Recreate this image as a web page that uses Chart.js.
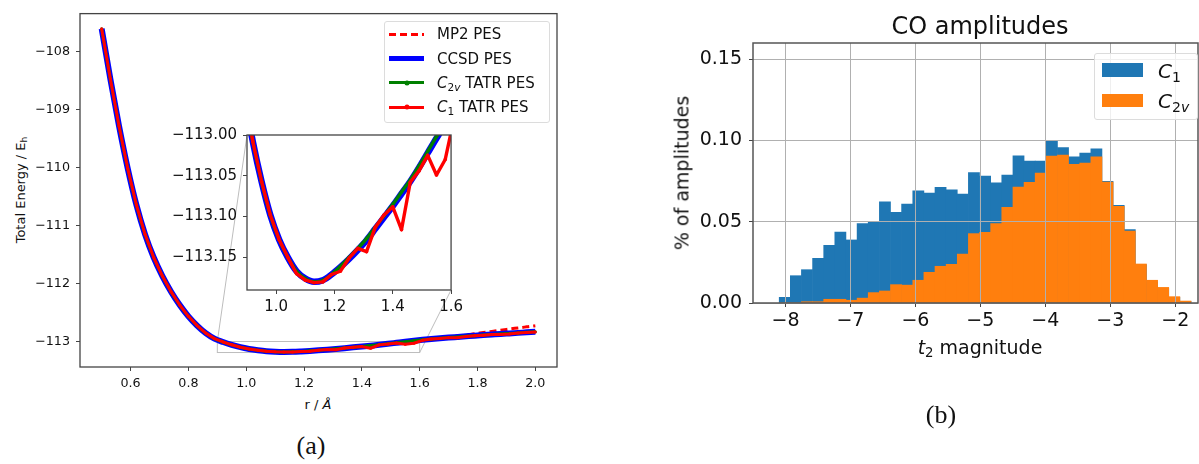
<!DOCTYPE html>
<html lang="en">
<head>
  <meta charset="UTF-8" />
  <title>CO potential energy surfaces and amplitudes</title>
  <script src="https://cdn.jsdelivr.net/npm/chart.js@4.4.1/dist/chart.umd.min.js"></script>
  <style>
    body { margin: 0; background: #fff; }
    #fig { position: relative; width: 1199px; height: 464px; overflow: hidden; background: #fff;
           font-family: 'DejaVu Sans', sans-serif; color: #111; }
    #fig canvas { position: absolute; }
    .txt { position: absolute; white-space: nowrap; line-height: 1; transform: translate(-50%, -50%); }
    .rot { transform: translate(-50%, -50%) rotate(-90deg); }
    .cap { font-family: 'Liberation Serif', 'DejaVu Serif', serif; font-size: 26px; }
    sub { font-size: 70%; line-height: 0; vertical-align: -0.3em; }
    .legend { position: absolute; z-index: 3; background: rgba(255,255,255,0.8);
              border: 1px solid #dcdcdc; border-radius: 3px; box-sizing: border-box; }
    .hnd { position: absolute; left: 4px; width: 35px; }
    .dot { position: absolute; left: 50%; top: 50%; width: 5px; height: 5px; border-radius: 50%;
           transform: translate(-50%, -50%); }
    .lab { position: absolute; white-space: nowrap; line-height: 1; transform: translateY(-50%); }
  </style>
</head>
<body>
<div id="fig">
  <!-- (a) potential energy curves -->
  <canvas id="main" width="570" height="400" style="left:0;top:0;z-index:1"></canvas>
  <canvas id="inset" width="310" height="200" style="left:157px;top:120px;z-index:2"></canvas>

  <div class="txt rot" style="left:20px;top:190px;font-size:13px">Total Energy / E<sub>h</sub></div>
  <div class="txt" style="left:318px;top:404px;font-size:13px">r / <i>Å</i></div>
  <div class="txt cap" style="left:311px;top:446px">(a)</div>

  <div class="legend" style="left:384px;top:21px;width:166px;height:102px;font-size:15px">
    <div class="hnd" style="top:11px;height:2.5px;background:repeating-linear-gradient(to right, red 0 7px, transparent 7px 11px)"></div>
    <div class="lab" style="left:52px;top:12px">MP2 PES</div>
    <div class="hnd" style="top:34px;height:5px;background:blue"></div>
    <div class="lab" style="left:52px;top:36.5px">CCSD PES</div>
    <div class="hnd" style="top:59px;height:3px;background:green"><span class="dot" style="background:green"></span></div>
    <div class="lab" style="left:52px;top:60.5px"><i>C</i><sub>2<i>v</i></sub> TATR PES</div>
    <div class="hnd" style="top:83.5px;height:3px;background:red"><span class="dot" style="background:red"></span></div>
    <div class="lab" style="left:52px;top:85px"><i>C</i><sub>1</sub> TATR PES</div>
  </div>

  <!-- (b) amplitude histogram -->
  <canvas id="hist" width="519" height="343" style="left:680px;top:0"></canvas>

  <div class="txt" style="left:980px;top:26px;font-size:24px">CO amplitudes</div>
  <div class="txt rot" style="left:682px;top:173px;font-size:19px">% of amplitudes</div>
  <div class="txt" style="left:980px;top:347px;font-size:19px"><i>t</i><sub>2</sub> magnitude</div>
  <div class="txt cap" style="left:941px;top:415px">(b)</div>

  <div class="legend" style="left:1094px;top:53px;width:104px;height:67px;font-size:20px">
    <div style="position:absolute;left:7px;top:9px;width:41px;height:14px;background:#1f77b4"></div>
    <div class="lab" style="left:63px;top:17px"><i>C</i><sub>1</sub></div>
    <div style="position:absolute;left:7px;top:39.5px;width:41px;height:13.5px;background:#ff7f0e"></div>
    <div class="lab" style="left:63px;top:47px"><i>C</i><sub>2<i>v</i></sub></div>
  </div>
</div>

<script>
  // ---- (a) PES data, bond length r in Angstrom, energies in Hartree ----
  const rGrid = [0.50, 0.53, 0.56, 0.59, 0.62, 0.65, 0.68, 0.71, 0.74, 0.77,
                 0.80, 0.83, 0.86, 0.89, 0.92, 0.95, 0.98, 1.01, 1.04, 1.07,
                 1.10, 1.13, 1.16, 1.19, 1.22, 1.25, 1.28, 1.31, 1.34, 1.37,
                 1.40, 1.43, 1.46, 1.49, 1.52, 1.55, 1.58, 1.61, 1.64, 1.67,
                 1.70, 1.73, 1.76, 1.79, 1.82, 1.85, 1.88, 1.91, 1.94, 1.97, 2.00];

  const eCCSD = [-107.60, -108.47, -109.28, -110.01, -110.64, -111.15, -111.55, -111.87, -112.14, -112.37,
                 -112.565, -112.725, -112.855, -112.95, -113.008, -113.057, -113.098, -113.128, -113.150, -113.167,
                 -113.176, -113.180, -113.178, -113.171, -113.162, -113.152, -113.141, -113.129, -113.115, -113.101,
                 -113.087, -113.072, -113.057, -113.040, -113.022, -113.004, -112.987, -112.971, -112.957, -112.944,
                 -112.932, -112.921, -112.910, -112.899, -112.889, -112.879, -112.869, -112.860, -112.851, -112.842, -112.833];

  const eMP2 = [-107.60, -108.47, -109.28, -110.01, -110.64, -111.15, -111.55, -111.87, -112.14, -112.37,
                -112.565, -112.725, -112.855, -112.95, -113.008, -113.057, -113.098, -113.128, -113.150, -113.167,
                -113.176, -113.180, -113.178, -113.171, -113.162, -113.152, -113.141, -113.129, -113.115, -113.101,
                -113.087, -113.072, -113.057, -113.040, -113.022, -113.004, -112.987, -112.971, -112.957, -112.942,
                -112.926, -112.909, -112.890, -112.866, -112.846, -112.825, -112.804, -112.785, -112.766, -112.747, -112.728];

  const eC2v = [-107.60, -108.47, -109.28, -110.01, -110.64, -111.15, -111.55, -111.87, -112.14, -112.37,
                -112.565, -112.725, -112.855, -112.95, -113.008, -113.057, -113.098, -113.128, -113.150, -113.167,
                -113.176, -113.180, -113.178, -113.171, -113.161, -113.150, -113.139, -113.127, -113.113, -113.099,
                -113.085, -113.070, -113.055, -113.038, -113.020, -113.002, -112.985, -112.969, -112.955, -112.942,
                -112.931, -112.920, -112.910, -112.899, -112.889, -112.879, -112.869, -112.860, -112.851, -112.842, -112.833];

  const eC1 = [-107.60, -108.47, -109.28, -110.01, -110.64, -111.15, -111.55, -111.87, -112.14, -112.37,
               -112.565, -112.725, -112.855, -112.95, -113.008, -113.057, -113.098, -113.128, -113.150, -113.170,
               -113.178, -113.181, -113.180, -113.171, -113.167, -113.151, -113.139, -113.143, -113.113, -113.098,
               -113.088, -113.116, -113.058, -113.044, -113.025, -113.049, -113.030, -112.980, -112.958, -112.946,
               -112.933, -112.935, -112.912, -112.901, -112.890, -112.880, -112.879, -112.872, -112.853, -112.845, -112.836];

  const mainX = [0.425, 2.075];
  const mainY = [-113.44, -107.34];
  const mainXTicks = [0.6, 0.8, 1.0, 1.2, 1.4, 1.6, 1.8, 2.0];
  const mainYTicks = [-113, -112, -111, -110, -109, -108];

  const insetX = [0.9, 1.6];
  const insetY = [-113.19, -113.0];
  const insetXTicks = [1.0, 1.2, 1.4, 1.6];
  const insetYTicks = [-113.15, -113.10, -113.05, -113.00];

  // ---- (b) histogram data ----
  const binCenters = [-8.011, -7.840, -7.669, -7.497, -7.326, -7.155, -6.983, -6.812, -6.641, -6.469,
                      -6.298, -6.127, -5.955, -5.784, -5.613, -5.441, -5.270, -5.099, -4.927, -4.756,
                      -4.585, -4.413, -4.242, -4.071, -3.899, -3.728, -3.557, -3.385, -3.214, -3.043,
                      -2.871, -2.700, -2.529, -2.357, -2.186, -2.015, -1.843];
  const countsC1 = [0.0035, 0.0168, 0.0205, 0.0275, 0.0355, 0.0437, 0.0388, 0.0488, 0.0498, 0.0623,
                    0.0558, 0.0608, 0.0690, 0.0677, 0.0712, 0.0697, 0.0670, 0.0802, 0.0781, 0.0740,
                    0.0787, 0.0906, 0.0873, 0.0873, 0.0995, 0.0957, 0.0900, 0.0922, 0.0949, 0.0749,
                    0.0601, 0.0452, 0.0236, 0.0130, 0.0090, 0.0035, 0.0010];
  const countsC2v = [0, 0, 0.0008, 0.0008, 0.0023, 0.0023, 0.0017, 0.0030, 0.0064, 0.0074,
                     0.0113, 0.0110, 0.0140, 0.0189, 0.0226, 0.0238, 0.0301, 0.0427, 0.0435, 0.0488,
                     0.0589, 0.0714, 0.0742, 0.0800, 0.0904, 0.0910, 0.0853, 0.0861, 0.0900, 0.0744,
                     0.0595, 0.0443, 0.0240, 0.0140, 0.0096, 0.0039, 0.0012];

  const histX = [-8.5, -1.65];
  const histY = [0, 0.16];
  const histXTicks = [-8, -7, -6, -5, -4, -3, -2];
  const histYTicks = [0, 0.05, 0.10, 0.15];

  // ---- helpers ----
  Chart.defaults.font.family = "'DejaVu Sans', sans-serif";
  Chart.defaults.color = '#111';

  const fmt = (v, d) => (v < 0 ? '\u2212' : '') + Math.abs(v).toFixed(d);

  function linAxis(o) {
    return {
      type: 'linear', min: o.min, max: o.max, offset: false,
      afterBuildTicks: s => { s.ticks = o.ticks.map(v => ({ value: v })); },
      afterFit: s => { if (s.isHorizontal()) s.height = o.fit; else s.width = o.fit; },
      ticks: { callback: v => fmt(v, o.dec), font: { size: o.size }, padding: o.pad,
               maxRotation: 0, autoSkip: false, color: '#111' },
      grid: { drawOnChartArea: !!o.grid, offset: false, color: '#b0b0b0', lineWidth: 1, z: 1,
              tickLength: 4, tickColor: '#444' },
      border: { display: false }
    };
  }

  // all four spines
  const frame = {
    id: 'frame',
    afterDraw(chart, args, opts) {
      const a = chart.chartArea, ctx = chart.ctx;
      ctx.save();
      ctx.strokeStyle = opts.color;
      ctx.lineWidth = opts.width;
      ctx.strokeRect(a.left, a.top, a.right - a.left, a.bottom - a.top);
      ctx.restore();
    }
  };

  // white axes patch for the inset
  const whiteArea = {
    id: 'whiteArea',
    beforeDraw(chart) {
      const a = chart.chartArea, ctx = chart.ctx;
      ctx.save();
      ctx.fillStyle = '#fff';
      ctx.fillRect(a.left, a.top, a.right - a.left, a.bottom - a.top);
      ctx.restore();
    }
  };

  // w = [thin line width, CCSD width], dot = marker radius
  function pesDatasets(w, dot) {
    const pts = ys => rGrid.map((r, i) => ({ x: r, y: ys[i] }));
    const common = { borderJoinStyle: 'round', pointBorderWidth: 0, fill: false };
    const smooth = { ...common, cubicInterpolationMode: 'monotone' };
    return [
      { ...common, tension: 0, label: 'C1 TATR PES', data: pts(eC1), borderColor: 'red', borderWidth: w[0],
        pointRadius: dot, pointBackgroundColor: 'red' },
      { ...smooth, label: 'C2v TATR PES', data: pts(eC2v), borderColor: 'green', borderWidth: w[0],
        pointRadius: dot, pointBackgroundColor: 'green' },
      { ...smooth, label: 'CCSD PES', data: pts(eCCSD), borderColor: 'blue', borderWidth: w[1], pointRadius: 0 },
      { ...smooth, label: 'MP2 PES', data: pts(eMP2), borderColor: 'red', borderWidth: w[0],
        borderDash: [7, 4], pointRadius: 0 }
    ];
  }

  const baseOpts = { responsive: false, animation: false, devicePixelRatio: 1, events: [] };

  // ---- inset ----
  const insetLeft = 157, insetTop = 120;
  const inset = new Chart(document.getElementById('inset'), {
    type: 'line',
    data: { datasets: pesDatasets([3.4, 6.5], 1.8) },
    options: {
      ...baseOpts,
      layout: { padding: { top: 9, right: 5, left: 0, bottom: 0 } },
      plugins: { legend: { display: false }, tooltip: { enabled: false }, frame: { color: '#444', width: 1.3 } },
      scales: {
        x: linAxis({ min: insetX[0], max: insetX[1], ticks: insetXTicks, dec: 1, size: 15, fit: 30, pad: 4 }),
        y: linAxis({ min: insetY[0], max: insetY[1], ticks: insetYTicks, dec: 2, size: 15, fit: 90, pad: 6 })
      }
    },
    plugins: [whiteArea, frame]
  });

  // zoom box and connector lines on the main axes
  const insetMark = {
    id: 'insetMark',
    beforeDatasetsDraw(chart) {
      const { ctx, scales: { x, y } } = chart;
      const x0 = x.getPixelForValue(insetX[0]), x1 = x.getPixelForValue(insetX[1]);
      const y0 = y.getPixelForValue(insetY[1]), y1 = y.getPixelForValue(insetY[0]);
      const ia = inset.chartArea;
      ctx.save();
      ctx.strokeStyle = '#bdbdbd';
      ctx.lineWidth = 1;
      ctx.strokeRect(x0, y0, x1 - x0, y1 - y0);
      ctx.beginPath();
      ctx.moveTo(x0, y0);
      ctx.lineTo(insetLeft + ia.left, insetTop + ia.top);
      ctx.moveTo(x1, y1);
      ctx.lineTo(insetLeft + ia.right, insetTop + ia.bottom);
      ctx.stroke();
      ctx.restore();
    }
  };

  // ---- main PES plot ----
  new Chart(document.getElementById('main'), {
    type: 'line',
    data: { datasets: pesDatasets([3, 6], 1.5) },
    options: {
      ...baseOpts,
      layout: { padding: { top: 12, right: 13, left: 0, bottom: 0 } },
      plugins: { legend: { display: false }, tooltip: { enabled: false }, frame: { color: '#444', width: 1.3 } },
      scales: {
        x: linAxis({ min: mainX[0], max: mainX[1], ticks: mainXTicks, dec: 1, size: 12.7, fit: 33, pad: 5 }),
        y: linAxis({ min: mainY[0], max: mainY[1], ticks: mainYTicks, dec: 0, size: 12.7, fit: 80, pad: 6 })
      }
    },
    plugins: [insetMark, frame]
  });

  // ---- histogram ----
  new Chart(document.getElementById('hist'), {
    type: 'bar',
    data: {
      datasets: [
        { label: 'C2v', data: binCenters.map((x, i) => ({ x: x, y: countsC2v[i] })), backgroundColor: '#ff7f0e' },
        { label: 'C1', data: binCenters.map((x, i) => ({ x: x, y: countsC1[i] })), backgroundColor: '#1f77b4' }
      ]
    },
    options: {
      ...baseOpts,
      layout: { padding: { top: 43, right: 1, left: 0, bottom: 0 } },
      datasets: { bar: { grouped: false, barPercentage: 1, categoryPercentage: 1, borderWidth: 0 } },
      plugins: { legend: { display: false }, tooltip: { enabled: false }, frame: { color: '#555', width: 1.5 } },
      scales: {
        x: linAxis({ min: histX[0], max: histX[1], ticks: histXTicks, dec: 0, size: 19, fit: 40, pad: 3, grid: true }),
        y: linAxis({ min: histY[0], max: histY[1], ticks: histYTicks, dec: 2, size: 19, fit: 73, pad: 7, grid: true })
      }
    },
    plugins: [frame]
  });
</script>
</body>
</html>
